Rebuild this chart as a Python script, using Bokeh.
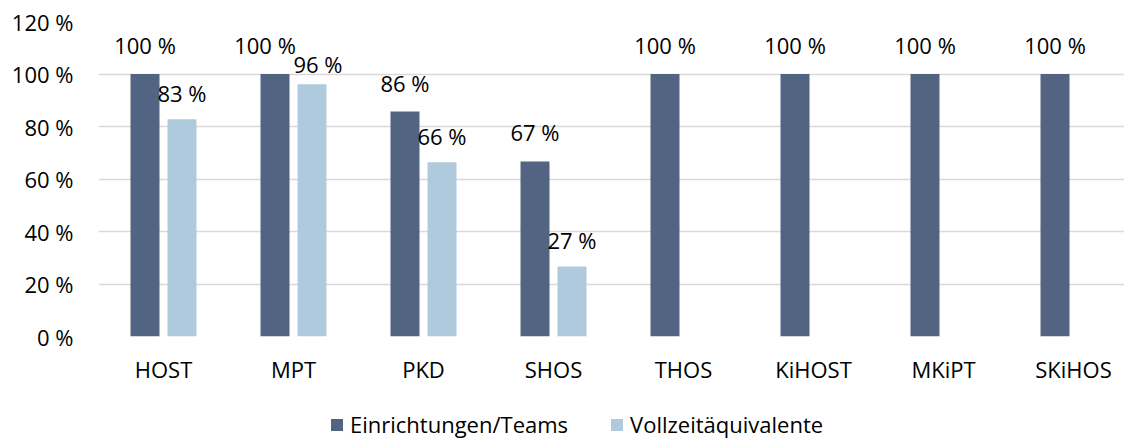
from bokeh.plotting import figure
from bokeh.layouts import column
from bokeh.models import (ColumnDataSource, Range1d, FixedTicker, PrintfTickFormatter,
                          Legend, LegendItem)
from bokeh.core.properties import value
from bokeh.embed import file_html
from bokeh.resources import INLINE

categories = ["HOST", "MPT", "PKD", "SHOS", "THOS", "KiHOST", "MKiPT", "SKiHOS"]
einrichtungen = [100, 100, 85.7, 66.7, 100, 100, 100, 100]
vollzeit = [82.8, 96.1, 66.4, 26.7, None, None, None, None]
series_names = ["Einrichtungen/Teams", "Vollzeitäquivalente"]
y_ticks = [0, 20, 40, 60, 80, 100, 120]

DARK = "#536483"
LIGHT = "#afcadc"
FONT = "Open Sans"
FS = "22px"

p = figure(width=1124, height=392, min_border_left=98, min_border_right=0,
           min_border_top=21, min_border_bottom=56,
           x_range=Range1d(0, 1026 / 130), y_range=Range1d(0, 120),
           output_backend="svg", toolbar_location=None)
p.outline_line_color = None
p.background_fill_color = "white"
p.border_fill_color = "white"

off = 0.1423
bw = 0.223
xd = [i + 0.5 - off for i in range(len(categories))]
xl = [i + 0.5 + off for i in range(len(categories))]

# simple label dodge where the two labels of a group would collide
px_per_unit = 315 / 120
dxd, dxl, dyl = [], [], []
for a, b in zip(einrichtungen, vollzeit):
    if b is not None and (a - b) * px_per_unit < 24:
        dxd.append(-10); dxl.append(6); dyl.append(-20)
    else:
        dxd.append(0); dxl.append(0); dyl.append(-26)

src_d = ColumnDataSource(dict(x=xd, top=einrichtungen, dx=dxd, dy=[-29] * len(xd),
                              lab=[f"{round(v)} %" for v in einrichtungen]))
keep = [i for i, v in enumerate(vollzeit) if v is not None]
src_l = ColumnDataSource(dict(x=[xl[i] for i in keep], top=[vollzeit[i] for i in keep],
                              dx=[dxl[i] for i in keep], dy=[dyl[i] for i in keep],
                              lab=[f"{round(vollzeit[i])} %" for i in keep]))

p.vbar(x="x", top="top", width=bw, source=src_d, fill_color=DARK, line_color=None)
p.vbar(x="x", top="top", width=bw, source=src_l, fill_color=LIGHT, line_color=None)

for src in (src_d, src_l):
    p.text(x="x", y="top", text="lab", source=src, text_align="center",
           text_baseline="middle", x_offset="dx", y_offset="dy", text_font=value(FONT),
           text_font_size=FS, text_color="#000000")

# axes
p.xaxis.ticker = FixedTicker(ticks=[i + 0.5 for i in range(len(categories))])
p.xaxis.major_label_overrides = {i + 0.5: c for i, c in enumerate(categories)}
p.yaxis.ticker = FixedTicker(ticks=y_ticks)
p.yaxis.formatter = PrintfTickFormatter(format="%d %%")
for ax in (p.xaxis, p.yaxis):
    ax.axis_line_color = None
    ax.major_tick_line_color = None
    ax.minor_tick_line_color = None
    ax.major_tick_out = 0
    ax.major_tick_in = 0
    ax.major_label_text_font = FONT
    ax.major_label_text_font_size = FS
    ax.major_label_text_color = "#000000"
p.xaxis.major_label_standoff = 17
p.yaxis.major_label_standoff = 25

p.xgrid.grid_line_color = None
p.ygrid.grid_line_color = "#d9d9d9"
p.ygrid.grid_line_width = 1.5
p.ygrid.ticker = FixedTicker(ticks=y_ticks)

# legend strip below the chart (legend glyphs come from hidden twins of the bar renderers)
pl = figure(width=1124, height=49, min_border=0, x_range=Range1d(0, 1), y_range=Range1d(0, 1),
            x_axis_location=None, y_axis_location=None,
            output_backend="svg", toolbar_location=None)
pl.outline_line_color = None
pl.grid.visible = False
h1 = pl.vbar(x="x", top="top", width=bw, source=src_d, fill_color=DARK, line_color=None,
             visible=False)
h2 = pl.vbar(x="x", top="top", width=bw, source=src_l, fill_color=LIGHT, line_color=None,
             visible=False)
legend = Legend(items=[LegendItem(label=series_names[0], renderers=[h1]),
                       LegendItem(label=series_names[1], renderers=[h2])],
                orientation="horizontal", location=(231, 2),
                glyph_width=15, glyph_height=15, label_standoff=6, spacing=41,
                padding=0, margin=0, border_line_color=None, background_fill_alpha=0,
                label_text_font=FONT, label_text_font_size=FS, label_text_color="#000000")
pl.add_layout(legend, "center")

layout = column(p, pl, spacing=0)
open("out.html", "w").write(file_html(layout, INLINE))
